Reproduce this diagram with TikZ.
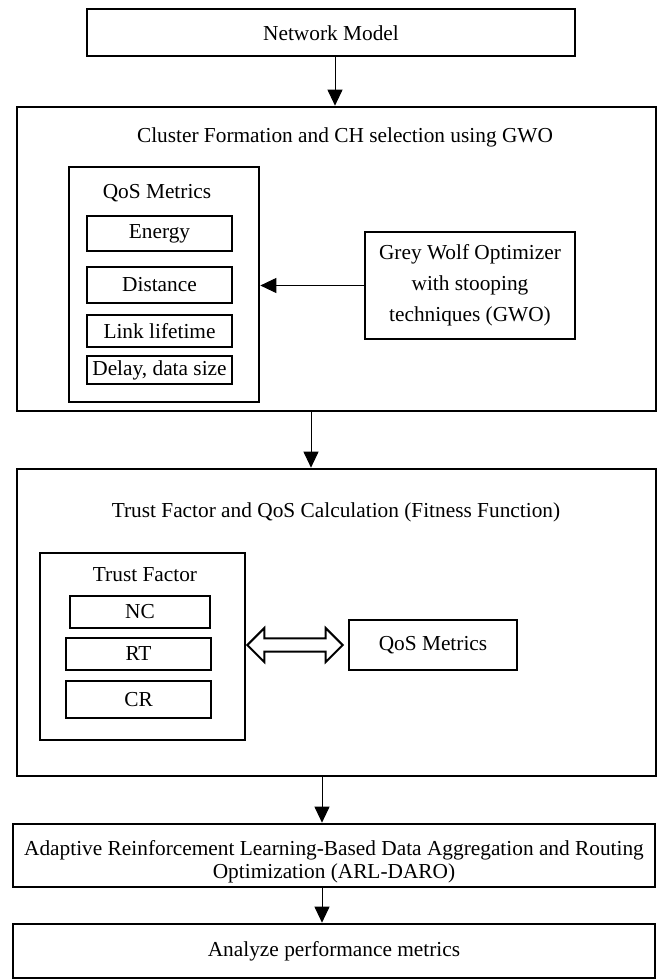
\documentclass[tikz,border=0pt]{standalone}
\usepackage{fontspec}
\setmainfont{Liberation Serif}
\usetikzlibrary{arrows.meta,calc}
\tikzset{
  box/.style={draw, line width=2pt, inner sep=0pt, align=center, font=\fontsize{16}{23}\selectfont},
  sz/.style 2 args={minimum width=#1*0.75pt, minimum height=#2*0.75pt},
  txt/.style={inner sep=0pt, align=center, font=\fontsize{16}{23}\selectfont},
  arr/.style={-{Triangle[width=11.25pt,length=12pt]}, line width=0.75pt},
  blockarrow/.style={draw, line width=1.5pt, line join=miter}
}
\begin{document}
\begin{tikzpicture}[x=0.75pt,y=-0.75pt]
\useasboundingbox (0,0) rectangle (664,979);
% top
\node[box, sz={488}{47}] (net) at (331,32.5) {};
\node[txt, anchor=base] (nettxt) at (331,40) {Network Model};
% cluster block
\node[box, sz={639}{304}] (cluster) at (336.5,259) {};
\node[txt, anchor=base] (cltitle) at (345,142) {Cluster Formation and CH selection using GWO};
\node[box, sz={190}{235}] (qos) at (164,284.5) {};
\node[txt, anchor=base] (qostitle) at (157,198) {QoS Metrics};
\node[box, sz={145}{35}] (energy) at (159.5,233.5) {Energy};
\node[box, sz={145}{36}] (dist) at (159.5,285) {Distance};
\node[box, sz={145}{32}] (link) at (159.5,331) {Link lifetime};
\node[box, sz={145}{28}] (delay) at (159.5,370) {Delay, data size};
\node[box, sz={210}{107}, font=\fontsize{16}{23.25}\selectfont] (gwo) at (470,285.5) {Grey Wolf Optimizer\\with stooping\\techniques (GWO)};
% trust block
\node[box, sz={639}{307}] (trust) at (336.5,622.5) {};
\node[txt, anchor=base] (trtitle) at (336,517) {Trust Factor and QoS Calculation (Fitness Function)};
\node[box, sz={205}{187}] (tf) at (142.5,646.5) {};
\node[txt, anchor=base] (tftitle) at (145,581) {Trust Factor};
\node[box, sz={140}{32}] (nc) at (140,612) {NC};
\node[box, sz={145}{32}] (rt) at (138.5,654) {RT};
\node[box, sz={145}{37}] (cr) at (138.5,699.5) {CR};
\node[box, sz={168}{50}] (qm2) at (433,645) {QoS Metrics};
% bottom
\node[box, sz={642}{63}] (arl) at (334,855.5) {};
\node[txt, font=\fontsize{16}{17.5}\selectfont] (arltxt) at (334,862) {Adaptive Reinforcement Learning-Based Data Aggregation and Routing\\Optimization (ARL-DARO)};
\node[box, sz={642}{54}] (ana) at (334,951) {Analyze performance metrics};
% connectors
\draw[arr] (net.south -| 335,0) -- (cluster.north -| 335,0);
\draw[arr] (gwo.west) -- (gwo.west -| qos.east);
\draw[arr] (cluster.south -| 311,0) -- (trust.north -| 311,0);
\draw[arr] (trust.south -| 322,0) -- (arl.north -| 322,0);
\draw[arr] (arl.south -| 322,0) -- (ana.north -| 322,0);
% double block arrow
\coordinate (daL) at ($(tf.east |- qm2.center)+(1,0)$);
\coordinate (daR) at ($(qm2.west)+(-5,0)$);
\draw[blockarrow] (daL) -- ++(17,-17) -- ++(0,10.3) -- ($(daR)+(-17,-6.7)$) -- ++(0,-10.3) -- (daR)
  -- ++(-17,17) -- ++(0,-10.3) -- ($(daL)+(17,6.7)$) -- ++(0,10.3) -- cycle;
\end{tikzpicture}
\end{document}
